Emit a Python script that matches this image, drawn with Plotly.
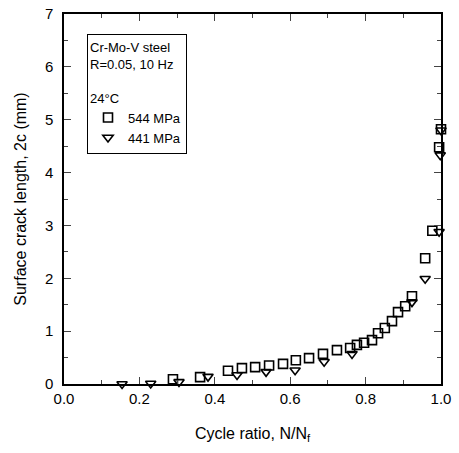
import plotly.graph_objects as go

# 544 MPa (squares)
x544 = [0.289, 0.361, 0.435, 0.472, 0.507, 0.544, 0.581, 0.615, 0.650, 0.687, 0.724,
        0.759, 0.777, 0.796, 0.817, 0.833, 0.851, 0.870, 0.886, 0.905, 0.923,
        0.958, 0.977, 0.995, 1.000]
y544 = [0.09, 0.13, 0.25, 0.30, 0.32, 0.35, 0.38, 0.45, 0.49, 0.57, 0.64,
        0.68, 0.74, 0.78, 0.83, 0.96, 1.06, 1.19, 1.36, 1.47, 1.66,
        2.38, 2.90, 4.48, 4.82]
# 441 MPa (triangles)
x441 = [0.154, 0.230, 0.305, 0.382, 0.459, 0.536, 0.613, 0.690, 0.764, 0.923,
        0.958, 0.995, 0.998, 1.000]
y441 = [0.00, 0.01, 0.04, 0.14, 0.17, 0.23, 0.26, 0.42, 0.57, 1.55,
        1.99, 2.88, 4.33, 4.80]

xticks = [0.0, 0.2, 0.4, 0.6, 0.8, 1.0]
yticks = [0, 1, 2, 3, 4, 5, 6, 7]

fig = go.Figure()
fig.add_trace(go.Scatter(x=x544, y=y544, mode="markers", name="544 MPa",
                         marker=dict(symbol="square-open", size=9, color="black",
                                     line=dict(width=1.6, color="black")),
                         cliponaxis=False))
fig.add_trace(go.Scatter(x=x441, y=y441, mode="markers", name="441 MPa",
                         marker=dict(symbol="triangle-down-open", size=9, color="black",
                                     line=dict(width=1.6, color="black")),
                         cliponaxis=False))

font = dict(family="Liberation Sans, Arial, sans-serif", color="black")
fig.update_layout(
    width=459, height=453,
    margin=dict(l=64, r=18, t=14, b=69, autoexpand=False),
    paper_bgcolor="white", plot_bgcolor="white",
    font=dict(**font, size=14),
    showlegend=True,
    legend=dict(
        x=0.061, y=0.946, xanchor="left", yanchor="top",
        bordercolor="black", borderwidth=1, bgcolor="white",
        title=dict(text="Cr-Mo-V steel<br>R=0.05, 10 Hz<br><br>24°C", font=dict(**font, size=13)),
        font=dict(**font, size=13),
        itemsizing="trace", tracegroupgap=0, itemwidth=30,
        entrywidth=95,
    ),
    xaxis=dict(range=[0, 1.0], tickvals=xticks, ticktext=[f"{v:.1f}" for v in xticks],
               ticks="inside", ticklen=7, tickwidth=1.2, mirror="allticks",
               showline=True, linecolor="black", linewidth=1.5, showgrid=False, zeroline=False,
               minor=dict(dtick=0.1, ticks="inside", ticklen=4, tickwidth=1.2, tick0=0),
               title=dict(text="Cycle ratio, N/N<sub>f</sub>", font=dict(**font, size=16), standoff=22),
               tickfont=dict(**font, size=15)),
    yaxis=dict(range=[0, 7], tickvals=yticks, ticks="inside", ticklen=7, tickwidth=1.2,
               mirror="allticks", showline=True, linecolor="black", linewidth=1.5,
               showgrid=False, zeroline=False,
               minor=dict(dtick=0.5, ticks="inside", ticklen=4, tickwidth=1.2, tick0=0),
               title=dict(text="Surface crack length, 2c (mm)", font=dict(**font, size=16), standoff=14),
               ticklabelstandoff=6,
               tickfont=dict(**font, size=15)),
)
fig.write_html("out.html", config={"displayModeBar": False},
               post_script="document.body.style.margin='0';")
